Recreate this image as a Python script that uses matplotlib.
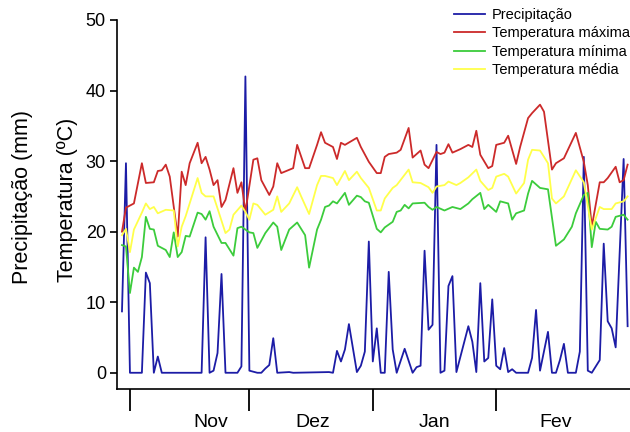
import matplotlib
matplotlib.use("Agg")
import matplotlib.pyplot as plt

# day 0 = 30 Oct; 1 Nov = day 2
month_start_days = [2, 32, 63, 94]
month_labels = ["Nov", "Dez", "Jan", "Fev"]

prec_days = [0, 1, 2, 5, 6, 7, 8, 9, 10, 20, 21, 22, 23, 24, 25, 26, 29, 30, 31, 32,
             34, 35, 36, 37, 38, 39, 42, 43, 52, 53, 54, 55, 56, 57, 59, 60, 61, 62, 63, 64,
             65, 66, 67, 68, 69, 71, 73, 74, 75, 76, 77, 78, 79, 80, 81, 82, 83, 84, 87, 88,
             89, 90, 91, 92, 93, 94, 95, 96, 97, 98, 99, 102, 103, 104, 105, 107, 108, 109, 110, 111,
             112, 114, 115, 116, 117, 118, 120, 121, 122, 123, 124, 126, 127]
prec = [8.7, 29.7, 0, 0, 14.2, 12.7, 0, 2.3, 0, 0, 19.2, 0, 0.3, 2.8, 14.0, 0, 0, 0.9, 42.0, 0.3,
        0, 0, 0.6, 1.1, 4.9, 0, 0.1, 0, 0.1, 0, 3.1, 1.6, 3.3, 6.9, 0.1, 1.0, 3.0, 18.6, 1.6, 6.3,
        0, 0, 14.3, 3.3, 0, 3.4, 0, 0.8, 1.0, 17.3, 6.1, 6.8, 32.3, 0, 0.3, 12.3, 13.7, 0.1, 6.6, 4.4,
        0.1, 12.7, 1.6, 2.1, 10.4, 1.0, 0.5, 3.5, 0.1, 0.5, 0, 0, 2.1, 8.9, 0.3, 5.8, 0, 0, 1.8, 4.1,
        0, 0, 3.0, 30.6, 0.3, 0, 1.8, 18.3, 7.3, 6.3, 3.6, 30.3, 6.6]

tmax_days = [0, 1, 3, 5, 6, 8, 9, 10, 11, 12, 14, 15, 16, 17, 19, 20, 21, 22, 23, 24,
             25, 26, 28, 29, 30, 31, 33, 34, 35, 37, 38, 39, 40, 43, 44, 46, 47, 49, 50, 51,
             53, 54, 55, 56, 59, 60, 62, 64, 65, 66, 67, 69, 70, 72, 73, 75, 76, 77, 79, 80,
             81, 82, 83, 85, 87, 88, 89, 90, 92, 93, 94, 96, 97, 99, 100, 102, 103, 105, 106, 108,
             109, 111, 112, 114, 116, 117, 118, 120, 121, 122, 124, 125, 126, 127]
tmax = [20.0, 23.4, 24.0, 29.7, 26.9, 27.0, 28.6, 28.7, 29.5, 27.8, 19.3, 28.5, 26.6, 29.7, 32.6, 29.7, 30.6, 28.8, 26.6, 27.3,
        23.5, 24.5, 29.0, 25.5, 27.0, 22.8, 30.2, 30.4, 27.3, 25.2, 26.4, 29.7, 28.3, 29.0, 32.3, 29.0, 29.0, 32.3, 34.1, 32.6,
        32.0, 30.3, 32.6, 32.3, 33.3, 32.0, 29.9, 28.3, 28.3, 30.6, 31.0, 31.2, 31.6, 34.7, 30.5, 31.5, 29.5, 29.0, 31.3, 31.0,
        31.2, 32.4, 31.2, 31.7, 32.3, 32.0, 34.3, 30.9, 29.0, 29.3, 32.3, 32.6, 33.6, 29.6, 32.0, 36.1, 36.8, 38.0, 37.0, 28.8,
        29.7, 30.4, 31.6, 34.0, 29.9, 26.6, 20.7, 27.0, 27.0, 27.6, 29.2, 27.0, 27.3, 29.5]

tmin_days = [0, 1, 2, 3, 4, 5, 6, 7, 8, 9, 11, 12, 13, 14, 15, 16, 17, 19, 20, 21,
             22, 23, 25, 26, 28, 29, 30, 32, 33, 34, 36, 38, 39, 40, 42, 44, 46, 47, 49, 50,
             51, 52, 53, 54, 56, 57, 59, 60, 61, 62, 64, 65, 66, 68, 69, 70, 71, 72, 73, 76,
             77, 78, 79, 81, 83, 85, 87, 88, 90, 91, 92, 94, 95, 97, 98, 99, 101, 102, 103, 105,
             107, 109, 111, 113, 114, 116, 117, 118, 119, 120, 122, 123, 124, 126, 127]
tmin = [18.1, 17.9, 11.3, 14.9, 14.3, 16.4, 22.1, 20.4, 20.3, 18.0, 17.4, 16.4, 19.9, 16.4, 17.1, 19.4, 19.3, 22.7, 22.5, 21.7,
        22.9, 20.7, 18.4, 18.4, 16.6, 20.5, 20.7, 19.9, 19.8, 17.7, 19.8, 21.3, 20.7, 17.4, 20.3, 21.3, 19.5, 14.9, 20.3, 21.7,
        23.5, 23.7, 24.3, 24.0, 25.5, 23.8, 25.1, 24.9, 24.3, 24.1, 20.4, 19.9, 20.6, 21.4, 22.8, 23.0, 23.8, 23.3, 24.0, 24.1,
        23.5, 23.1, 23.5, 23.0, 23.5, 23.2, 24.0, 24.6, 25.5, 23.2, 23.8, 22.8, 24.3, 24.0, 21.7, 22.6, 23.0, 25.4, 27.2, 26.2,
        26.0, 18.0, 18.9, 20.7, 22.6, 25.2, 25.5, 17.8, 21.4, 20.4, 20.3, 20.7, 22.1, 22.4, 21.7]

tmed_days = [0, 1, 2, 3, 5, 6, 7, 8, 9, 11, 13, 14, 15, 16, 17, 19, 20, 21, 23, 24,
             26, 27, 28, 30, 31, 32, 33, 34, 36, 38, 39, 40, 42, 44, 45, 47, 49, 50, 51, 53,
             54, 56, 57, 59, 60, 62, 64, 65, 66, 68, 69, 72, 73, 75, 77, 78, 79, 81, 82, 84,
             85, 87, 89, 90, 92, 93, 94, 96, 97, 99, 101, 102, 103, 105, 107, 108, 109, 111, 114, 116,
             118, 120, 121, 123, 124, 126, 127]
tmed = [19.5, 20.4, 17.1, 20.3, 22.7, 24.0, 23.2, 23.5, 22.6, 23.1, 23.0, 17.9, 20.7, 22.2, 24.0, 27.6, 25.5, 25.0, 25.0, 23.3,
        19.8, 20.3, 22.4, 23.7, 22.8, 21.7, 24.0, 23.8, 22.4, 23.1, 25.0, 22.8, 24.0, 26.3, 25.0, 22.5, 26.6, 27.9, 27.9, 27.6,
        26.6, 28.6, 27.3, 28.5, 27.6, 26.2, 23.0, 23.0, 24.7, 26.2, 26.6, 28.8, 27.0, 26.9, 26.3, 25.5, 26.4, 26.6, 27.1, 26.6,
        26.9, 27.7, 28.8, 27.2, 25.9, 26.2, 27.8, 28.2, 27.8, 25.4, 26.9, 30.2, 31.6, 31.5, 29.7, 24.7, 24.0, 25.0, 28.7, 27.0,
        20.3, 23.5, 23.2, 23.2, 24.0, 24.3, 25.0]

plt.rcParams["font.family"] = ["Liberation Sans", "DejaVu Sans"]

fig = plt.figure(figsize=(6.3, 4.32), dpi=100)
ax = fig.add_axes([117 / 630, 1 - 389 / 432, 513 / 630, 369 / 432])

ax.plot(prec_days, prec, color="#1c1ca6", lw=1.3, label="Precipitação")
ax.plot(tmax_days, tmax, color="#cc2a2a", lw=1.3, label="Temperatura máxima")
ax.plot(tmin_days, tmin, color="#3ccc3c", lw=1.3, label="Temperatura mínima")
ax.plot(tmed_days, tmed, color="#ffff4a", lw=1.3, label="Temperatura média")

ax.set_xlim(-1.25, 127.6)
ax.set_ylim(-2.3, 50)
ax.set_yticks(range(0, 51, 10))
ax.tick_params(axis="y", direction="out", length=5, width=1.2, labelsize=13, pad=3)

ax.set_xticks(month_start_days)
ax.set_xticklabels([])
ax.set_xticks([22.4, 48, 78.6, 108.8], minor=True)
ax.set_xticklabels(month_labels, minor=True)
ax.tick_params(axis="x", which="major", direction="out", length=16, width=1.3)
ax.tick_params(axis="x", which="minor", length=0, labelsize=14, pad=18)

for s in ["top", "right"]:
    ax.spines[s].set_visible(False)
for s in ["left", "bottom"]:
    ax.spines[s].set_linewidth(1.2)

fig.text(23 / 630, 1 - 197 / 432, "Precipitação (mm)", rotation=90, fontsize=15.5,
         ha="center", va="center")
fig.text(68 / 630, 1 - 200 / 432, "Temperatura (ºC)", rotation=90, fontsize=15.5,
         ha="center", va="center")

ax.legend(loc="upper right", bbox_to_anchor=(1.0, 1 - 8 / 432), bbox_transform=fig.transFigure,
          frameon=False, fontsize=10.5, handlelength=2.1, handletextpad=0.5,
          labelspacing=0.3, borderaxespad=0, borderpad=0)

fig.savefig("out.png", dpi=100)
